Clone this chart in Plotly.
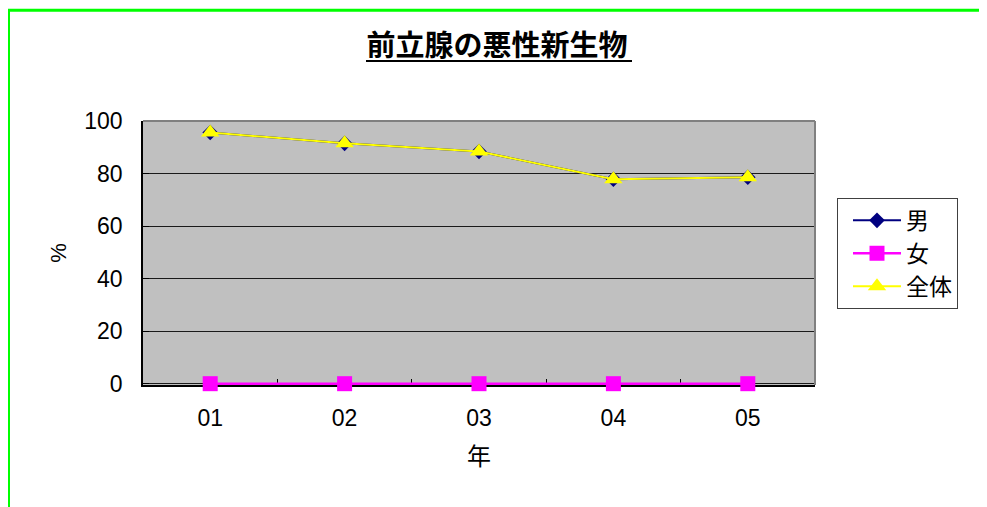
import plotly.graph_objects as go

years = ["01", "02", "03", "04", "05"]
male = [95.6, 91.5, 88.4, 77.8, 78.6]
female = [0, 0, 0, 0, 0]
total = [95.6, 91.5, 88.4, 77.8, 78.6]

OFF = 8                      # default page body margin
YMIN = -0.5                  # small pad so the 0-line is not clipped
W, H = 987 - OFF, 507 - OFF
L, T = 143 - OFF, 121 - OFF
R = W - (815 - OFF)
bottom_px = 384 + (0 - YMIN) * (384 - 121) / 100.0
B = H - (bottom_px - OFF)
pw, ph = W - L - R, H - T - B

def px_x(x):                 # reference page x -> paper x
    return (x - OFF - L) / pw

def px_y(y):                 # reference page y -> paper y
    return (H - B - (y - OFF)) / ph

FONT = "Liberation Sans, Arial, Noto Sans CJK JP"
CJK = "Noto Sans CJK JP"

fig = go.Figure()
fig.add_trace(go.Scatter(x=years, y=male, name="男", mode="lines+markers",
                         line=dict(color="#000080", width=2),
                         marker=dict(symbol="diamond", size=12, color="#000080"),
                         cliponaxis=False))
fig.add_trace(go.Scatter(x=years, y=female, name="女", mode="lines+markers",
                         line=dict(color="#FF00FF", width=2.5),
                         marker=dict(symbol="square", size=15, color="#FF00FF"),
                         cliponaxis=False))
fig.add_trace(go.Scatter(x=years, y=total, name="全体", mode="lines+markers",
                         line=dict(color="#FFFF00", width=2),
                         marker=dict(symbol="triangle-up", size=16, color="#FFFF00"),
                         cliponaxis=False))

shapes = [
    dict(type="line", xref="paper", yref="paper", x0=0, x1=1, y0=1, y1=1,
         line=dict(color="#808080", width=2), layer="above"),
    dict(type="line", xref="paper", yref="paper", x0=1, x1=1, y0=0, y1=1,
         line=dict(color="#808080", width=2), layer="above"),
    dict(type="rect", xref="paper", yref="paper",
         x0=px_x(8.5), x1=px_x(987 + 30), y0=px_y(10), y1=px_y(507 + 30),
         line=dict(color="#00FF00", width=3), fillcolor="rgba(0,0,0,0)", layer="above"),
    dict(type="line", xref="paper", yref="paper",
         x0=px_x(366), x1=px_x(632), y0=px_y(61), y1=px_y(61),
         line=dict(color="black", width=2), layer="above"),
]

fig.update_layout(
    width=W, height=H,
    margin=dict(l=L, r=R, t=T, b=B),
    paper_bgcolor="white",
    plot_bgcolor="#C0C0C0",
    font=dict(family=FONT, size=22, color="black"),
    title=dict(text="<b>前立腺の悪性新生物</b>", x=(497 - OFF) / W, xanchor="center",
               y=1 - (46 - OFF) / H, yanchor="middle", xref="container", yref="container",
               font=dict(family=CJK, size=29, color="black")),
    xaxis=dict(type="category", range=[-0.5, 4.5], showline=True, linecolor="black",
               linewidth=1.5, ticks="inside", tickson="boundaries", ticklen=6,
               tickcolor="black", showgrid=False, zeroline=False, ticklabelstandoff=12,
               layer="below traces", tickfont=dict(size=23),
               title=dict(text="年", standoff=18, font=dict(family=CJK, size=24))),
    yaxis=dict(range=[YMIN, 100], tick0=0, dtick=20, showline=True, linecolor="black",
               linewidth=1.5, ticks="inside", ticklen=6, tickcolor="black",
               showgrid=True, gridcolor="#1a1a1a", gridwidth=1, zeroline=False,
               layer="below traces",
               ticklabelstandoff=14, tickfont=dict(size=23),
               title=dict(text="%", standoff=12, font=dict(size=22))),
    legend=dict(x=px_x(837), y=px_y(198), xanchor="left", yanchor="top",
                bordercolor="#404040", borderwidth=1, bgcolor="white",
                font=dict(family=CJK, size=23),
                indentation=10, itemwidth=48),
    shapes=shapes,
    showlegend=True,
)

fig.write_html("out.html")
